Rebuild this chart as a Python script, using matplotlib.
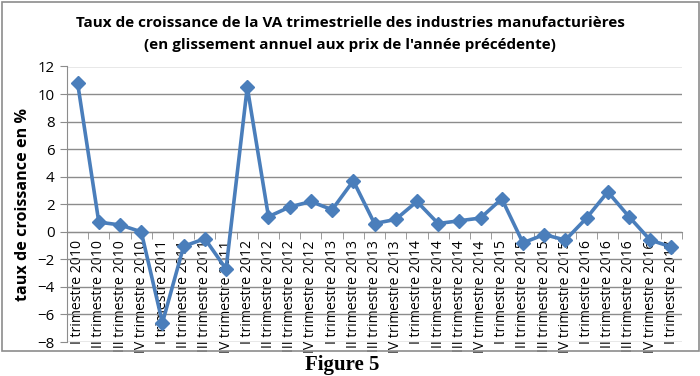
import matplotlib
matplotlib.use("Agg")
import matplotlib.pyplot as plt
from matplotlib.patches import Rectangle
import numpy as np

categories = [
    "I trimestre 2010", "II trimestre 2010", "III trimestre 2010", "IV trimestre 2010",
    "I trimestre 2011", "II trimestre 2011", "III trimestre 2011", "IV trimestre 2011",
    "I trimestre 2012", "II trimestre 2012", "III trimestre 2012", "IV trimestre 2012",
    "I trimestre 2013", "II trimestre 2013", "III trimestre 2013", "IV trimestre 2013",
    "I trimestre 2014", "II trimestre 2014", "III trimestre 2014", "IV trimestre 2014",
    "I trimestre 2015", "II trimestre 2015", "III trimestre 2015", "IV trimestre 2015",
    "I trimestre 2016", "II trimestre 2016", "III trimestre 2016", "IV trimestre 2016",
    "I trimestre 2017",
]
values = [
    10.8, 0.7, 0.5, 0.0,
    -6.6, -1.05, -0.5, -2.7,
    10.5, 1.1, 1.8, 2.2,
    1.6, 3.7, 0.6, 0.9,
    2.2, 0.6, 0.8, 1.0,
    2.4, -0.8, -0.2, -0.6,
    1.0, 2.9, 1.1, -0.6,
    -1.1,
]
y_ticks = [-8, -6, -4, -2, 0, 2, 4, 6, 8, 10, 12]

title = ("Taux de croissance de la VA trimestrielle des industries manufacturières\n"
         "(en glissement annuel aux prix de l'année précédente)")
ylabel = "taux de croissance en %"
caption = "Figure 5"

W, H = 700, 376
fig = plt.figure(figsize=(W / 100, H / 100), dpi=100)
fig.patch.set_facecolor("white")

# chart border
fig.add_artist(Rectangle((1.5 / W, 1 - 351 / H), 697 / W, 349.5 / H,
                         transform=fig.transFigure, fill=False,
                         edgecolor="#8c8c8c", linewidth=1.2))

left, right = 67 / W, 682 / W
bottom, top = 1 - 342 / H, 1 - 66.5 / H
ax = fig.add_axes([left, bottom, right - left, top - bottom])

x = np.arange(len(categories))
ax.plot(x, values, color="#4a7ebb", linewidth=2.6, marker="D",
        markersize=7.2, markeredgecolor="#4a7ebb", markerfacecolor="#4a7ebb",
        zorder=5)

ax.set_xlim(-0.5, len(categories) - 0.5)
ax.set_ylim(-8, 12)
ax.set_yticks(y_ticks)
ax.yaxis.grid(True, color="#8c8c8c", linewidth=1.0)
ax.set_axisbelow(True)

for s in ["top", "right"]:
    ax.spines[s].set_visible(False)
ax.spines["left"].set_color("#8c8c8c")
ax.spines["bottom"].set_color("#8c8c8c")
ax.spines["bottom"].set_position(("data", 0))
ax.spines["bottom"].set_zorder(3)

ax.tick_params(axis="y", length=5, color="#8c8c8c", labelsize=10.8, pad=4)
for lab in ax.get_yticklabels():
    lab.set_fontfamily("Open Sans")

# category boundary ticks
ax.set_xticks(np.arange(-0.5, len(categories) + 0.5, 1), minor=True)
ax.tick_params(axis="x", which="minor", length=5, color="#8c8c8c", direction="out")
ax.set_xticks(x)
ax.set_xticklabels(categories, rotation=90, fontfamily="Open Sans",
                   fontsize=10.1)
ax.tick_params(axis="x", which="major", length=0, pad=6)

ax.set_ylabel(ylabel, fontfamily="Open Sans", fontweight="bold", fontsize=11.6)
ax.yaxis.set_label_coords(-0.0585, 0.5)

fig.text(0.5, 1 - 34 / H, title, ha="center", va="center", fontfamily="Open Sans",
         fontweight="bold", fontsize=11, linespacing=1.65)

fig.text(0.489, 1 - 365 / H, caption, ha="center", va="center",
         fontfamily="Liberation Serif", fontweight="bold", fontsize=15)

fig.savefig("out.png", dpi=100, facecolor="white")
